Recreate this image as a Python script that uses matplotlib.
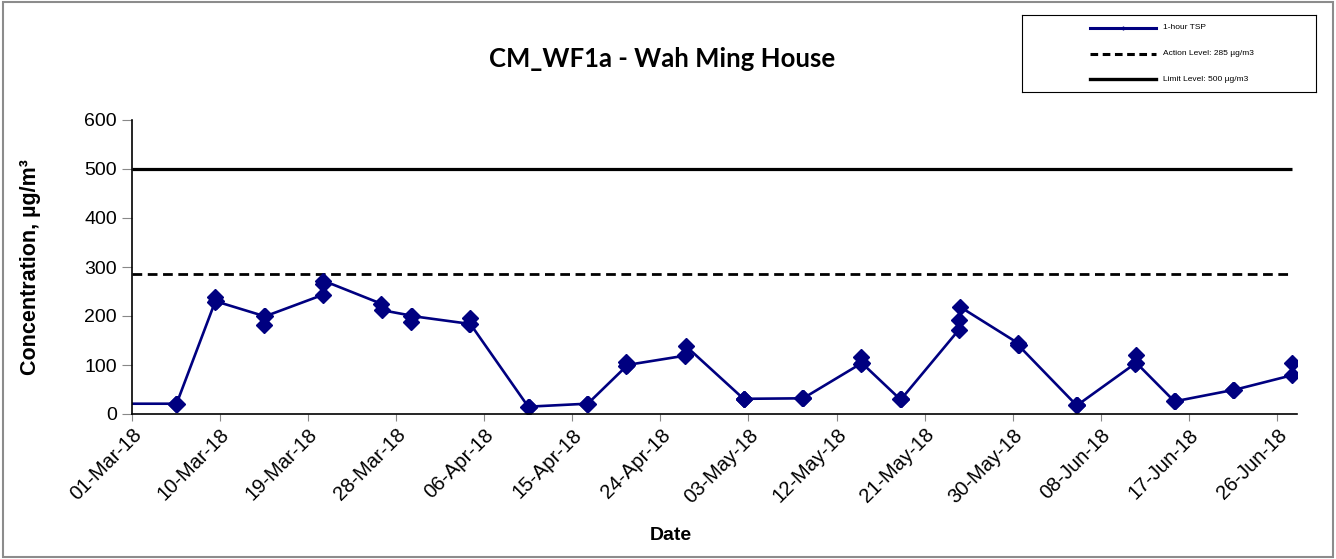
import matplotlib
matplotlib.use("Agg")
import matplotlib.pyplot as plt
import matplotlib.dates as mdates
from matplotlib.lines import Line2D
from matplotlib.patches import Rectangle
import pandas as pd

# sampling days and the 1-hour TSP readings taken on each (µg/m3)
sample_days = ["2018-02-27", "2018-03-05", "2018-03-09", "2018-03-14", "2018-03-20",
               "2018-03-26", "2018-03-29", "2018-04-04", "2018-04-10", "2018-04-16",
               "2018-04-20", "2018-04-26", "2018-05-02", "2018-05-08", "2018-05-14",
               "2018-05-18", "2018-05-24", "2018-05-30", "2018-06-05", "2018-06-11",
               "2018-06-15", "2018-06-21", "2018-06-27"]
hourly_tsp = [[21, 21, 21], [21, 20, 21], [228, 238, 230], [200, 182, 199], [243, 266, 272],
              [225, 212], [201, 188, 200], [184, 196, 184], [15, 15, 15], [21, 21, 21],
              [97, 106, 100], [119, 120, 139], [31, 31, 31], [32, 32, 32], [103, 117, 104],
              [30, 30, 30], [172, 191, 219], [145, 140, 140], [18, 18, 18], [103, 121, 105],
              [26, 26, 26], [49, 49, 49], [79, 104]]
sample_hours = [12, 13, 14]

action_level = 285
limit_level = 500
level_span = ["2018-03-01 00:00", "2018-06-27 12:00"]

x_start, x_end = "2018-03-01", "2018-06-28"
tick_dates = pd.date_range("2018-03-01", "2018-06-26", freq="9D")

# flatten readings to timestamps
times, vals = [], []
for day, readings in zip(sample_days, hourly_tsp):
    for h, v in zip(sample_hours, readings):
        times.append(pd.Timestamp(day) + pd.Timedelta(hours=h))
        vals.append(v)

plt.rcParams["font.family"] = ["Liberation Sans", "DejaVu Sans"]

fig = plt.figure(figsize=(13.36, 5.59), dpi=100)
ax = fig.add_axes([131.7 / 1336, 1 - 414 / 559, (1296.7 - 131.7) / 1336, (414 - 120) / 559])

navy = "#000080"
span = [pd.Timestamp(t) for t in level_span]
ax.plot(span, [limit_level] * 2, color="black", lw=2.3, solid_capstyle="butt")
ax.plot(span, [action_level] * 2, color="black", lw=2.0, ls=(0, (3.5, 2)))
ax.plot(times, vals, color=navy, lw=1.9, marker="D", ms=8.5, mfc=navy, mec=navy)

ax.set_xlim(pd.Timestamp(x_start), pd.Timestamp(x_end))
ax.set_ylim(0, 600)
ax.set_yticks(range(0, 601, 100))
ax.set_xticks(tick_dates)
ax.xaxis.set_major_formatter(mdates.DateFormatter("%d-%b-%y"))
ax.tick_params(axis="y", labelsize=14, length=7, color="#888888", pad=3.5)
ax.tick_params(axis="x", labelsize=14.5, length=5, color="#888888", pad=3)
plt.setp(ax.get_xticklabels(), rotation=45, ha="right", rotation_mode="anchor")

for s in ["top", "right"]:
    ax.spines[s].set_visible(False)
for s in ["left", "bottom"]:
    ax.spines[s].set_linewidth(1.2)

fig.text(31 / 1336, 1 - 267 / 559, "Concentration, µg/m³", rotation=90, ha="center", va="center",
         fontsize=15.5, fontweight="bold")
fig.text(671 / 1336, 1 - 535 / 559, "Date", ha="center", va="center", fontsize=14, fontweight="bold")
fig.text(662 / 1336, 1 - 59 / 559, "CM_WF1a - Wah Ming House", ha="center", va="center",
         fontsize=18.5, fontweight="bold", family=["Lato", "DejaVu Sans"])

# legend box
lg = fig.add_axes([1022 / 1336, 1 - 92 / 559, (1316 - 1022) / 1336, (92 - 15) / 559])
lg.set_xlim(1022, 1316)
lg.set_ylim(92, 15)
lg.set_xticks([])
lg.set_yticks([])
for s in lg.spines.values():
    s.set_linewidth(0.8)
legend_rows = [("1-hour TSP", dict(color=navy, lw=2.2, marker="|", ms=3, markevery=[1])),
               ("Action Level: 285 µg/m3", dict(color="black", lw=2.2, ls=(0, (2.5, 1.5)))),
               ("Limit Level: 500 µg/m3", dict(color="black", lw=2.4))]
for i, (lab, kw) in enumerate(legend_rows):
    y = 27.7 + 25.8 * i
    lg.add_line(Line2D([1090, 1123, 1156], [y, y, y], **kw))
    lg.text(1163, y, lab, fontsize=6, va="center", ha="left")

fig.add_artist(Rectangle((0.002, 0.003), 0.996, 0.994, transform=fig.transFigure,
                         fill=False, edgecolor="#8c8c8c", lw=1.5))

fig.savefig("out.png", dpi=100)
